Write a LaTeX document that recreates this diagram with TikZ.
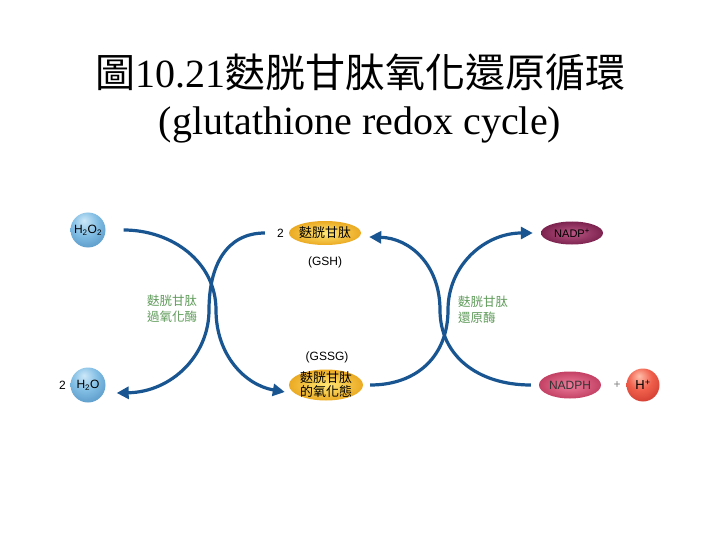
\documentclass[tikz,border=0pt]{standalone}
\usepackage{fontspec}
\setmainfont{Liberation Serif}
\setsansfont{Liberation Sans}
\newfontfamily\cjk{Noto Sans CJK TC}
\usetikzlibrary{arrows.meta,shapes.geometric}
\definecolor{arcblue}{RGB}{25,85,145}
\definecolor{enzgreen}{RGB}{95,155,90}
\definecolor{gshin}{RGB}{255,230,115}
\definecolor{gshout}{RGB}{235,170,35}
\definecolor{npin}{RGB}{185,85,130}
\definecolor{npout}{RGB}{125,35,80}
\definecolor{nphin}{RGB}{238,125,155}
\definecolor{nphout}{RGB}{195,65,100}
\definecolor{bbhi}{RGB}{205,232,248}
\definecolor{bbmid}{RGB}{130,190,228}
\definecolor{bbedge}{RGB}{60,125,180}
\definecolor{rbhi}{RGB}{255,190,170}
\definecolor{rbmid}{RGB}{240,95,75}
\definecolor{rbedge}{RGB}{185,35,30}
\pgfdeclareradialshading{blueball}{\pgfpoint{-6bp}{14bp}}{color(0bp)=(bbhi); color(18bp)=(bbmid); color(48bp)=(bbedge); color(70bp)=(bbedge)}
\pgfdeclareradialshading{redball}{\pgfpoint{-6bp}{14bp}}{color(0bp)=(rbhi); color(18bp)=(rbmid); color(48bp)=(rbedge); color(70bp)=(rbedge)}
\tikzset{
  title/.style={font=\fontsize{40}{44}\selectfont, anchor=base, inner sep=0},
  chem/.style={font=\sffamily\fontsize{12}{14}\selectfont, inner sep=0},
  ball/.style={circle, minimum size=35pt, inner sep=0, font=\sffamily\fontsize{12}{14}\selectfont},
  molecule/.style={ellipse, inner sep=0, minimum width=#1, minimum height=24pt},
  cjklabel/.style={font=\cjk\fontsize{13}{16}\selectfont, inner sep=0, align=center},
  enzyme/.style={font=\cjk\fontsize{12.5}{16}\selectfont, text=enzgreen, inner sep=0},
  flow/.style={draw=arcblue, line width=3.2pt, -{Triangle[length=12pt,width=12pt]}}
}
\begin{document}
\begin{tikzpicture}[x=1pt,y=-1pt]
\useasboundingbox (0,0) rectangle (720,540);
% title
\node[title] (t1) at (360,88) {{\cjk 圖}10.21{\cjk 麩胱甘肽氧化還原循環}};
\node[title] (t2) at (360,135) {(glutathione redox cycle)};
% left side
\node[ball, shading=blueball] (h2o2) at (88,230) {H\textsubscript{2}O\textsubscript{2}};
\node[ball, shading=blueball] (h2o) at (88,385) {H\textsubscript{2}O};
\node[chem, anchor=east] (two2) at (66,385) {2};
% GSH
\node[molecule=72pt, shading=radial, inner color=gshin, outer color=gshout] (gsh) at (325,233) {};
\node[cjklabel] (gsht) at (gsh) {麩胱甘肽};
\node[chem, anchor=east] (two1) at (284,233) {2};
\node[chem] (gshl) at (325,262) {(GSH)};
% GSSG
\node[molecule=74pt, minimum height=31pt, shading=radial, inner color=gshin, outer color=gshout] (gssg) at (326,385) {};
\node[cjklabel, font=\cjk\fontsize{13}{14}\selectfont] (gssgt) at (gssg) {麩胱甘肽\\的氧化態};
\node[chem] (gssgl) at (327,357) {(GSSG)};
% right side
\node[molecule=62pt, minimum height=23pt, shading=radial, inner color=npin, outer color=npout, font=\sffamily\fontsize{11}{13}\selectfont, text=black] (nadp) at (572,233) {NADP\textsuperscript{+}};
\node[molecule=62pt, minimum height=27pt, shading=radial, inner color=nphin, outer color=nphout, font=\sffamily\fontsize{12}{14}\selectfont, text=black!80] (nadph) at (570,385) {NADPH};
\node[chem, text=black!50] (plus) at (617,385) {+};
\node[ball, shading=redball, minimum size=33pt, font=\sffamily\fontsize{13}{15}\selectfont] (hplus) at (643,385) {H\textsuperscript{+}};
% enzymes
\node[enzyme, align=center] (gpx) at (172,309) {麩胱甘肽\\過氧化酶};
\node[enzyme, align=left, anchor=west] (gr) at (458,310) {麩胱甘肽\\還原酶};
% connectors
\draw[flow] ([xshift=18pt]h2o2.east) .. controls (172,230) and (216,262) .. (216,310)
   .. controls (216,355) and (245,385) .. ([xshift=-4pt,yshift=-7pt]gssg.west);
\draw[flow] ([xshift=-12pt]two1.west) .. controls (226,233) and (209,266) .. (209,310)
   .. controls (209,355) and (172,392) .. ([xshift=11pt,yshift=-8pt]h2o.east);
\draw[flow] ([xshift=7pt]gssg.east) .. controls (418,385) and (448,355) .. (448,310)
   .. controls (448,265) and (485,233) .. ([xshift=-8pt]nadp.west);
\draw[flow] ([xshift=-8pt]nadph.west) .. controls (477,385) and (440,355) .. (440,310)
   .. controls (440,265) and (410,238) .. ([xshift=8pt,yshift=-4pt]gsh.east);
\end{tikzpicture}
\end{document}
